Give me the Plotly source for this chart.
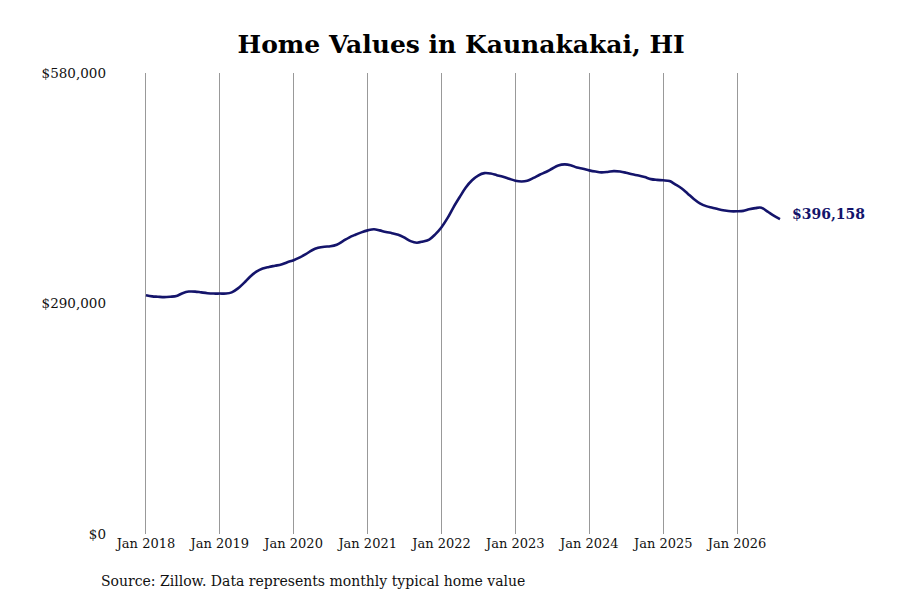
import plotly.graph_objects as go
import pandas as pd

dates = pd.date_range("2018-01-01", "2026-08-01", freq="MS").strftime("%Y-%m-%d").tolist()
values = [
    300500, 299000, 298500, 298000, 298500, 299500, 303000, 305000, 305000, 304000, 303000, 302500,
    302500, 302500, 304000, 309000, 316000, 324000, 330000, 334000, 336000, 337500, 339000, 342000,
    344500, 348000, 352000, 357000, 360000, 361500, 362000, 364000, 368500, 373000, 376500, 379500,
    382000, 383500, 382000, 380000, 378500, 376500, 373000, 368500, 366500, 368000, 370500, 377000,
    386000, 398000, 411000, 424000, 436000, 445000, 451000, 454000, 453500, 451500, 449500, 447000,
    444500, 443500, 444500, 448000, 452000, 455500, 459500, 463500, 465000, 464000, 461000, 459500,
    457500, 456000, 455000, 455500, 456500, 456000, 454500, 452500, 451000, 449000, 446500, 445500,
    445000, 444000, 440000, 435000, 428500, 421500, 416000, 412500, 410500, 408500, 407000, 406000,
    406000, 406500, 408500, 410000, 410500, 405500, 400500, 396158,
]
tick_dates = [f"{y}-01-01" for y in range(2018, 2027)]
tick_labels = [f"Jan {y}" for y in range(2018, 2027)]
y_ticks = [0, 290000, 580000]
y_labels = ["$0", "$290,000", "$580,000"]

navy = "#14146b"
font = "DejaVu Serif"

W, H = 892, 592
L, R, T, B = 108, 119, 65, 66
PW, PH = W - L - R, H - T - B

fig = go.Figure()
fig.add_trace(go.Scatter(
    x=dates, y=values, mode="lines",
    line=dict(color=navy, width=2.6, shape="spline"),
    hoverinfo="skip", showlegend=False,
))

fig.add_annotation(
    x=dates[-1], y=values[-1], xref="x", yref="y",
    text=f"<b>${values[-1]:,}</b>", showarrow=False,
    xanchor="left", yanchor="middle", xshift=10, yshift=5,
    font=dict(family=font, size=14, color=navy),
)
fig.add_annotation(
    x=(91 - L) / PW, y=(H - B - 573) / PH, xref="paper", yref="paper",
    text="Source: Zillow. Data represents monthly typical home value",
    showarrow=False, xanchor="left", yanchor="middle",
    font=dict(family=font, size=14, color="#111111"),
)

fig.update_layout(
    width=W, height=H,
    margin=dict(l=L, r=R, t=T, b=B),
    paper_bgcolor="white", plot_bgcolor="white",
    title=dict(
        text="<b>Home Values in Kaunakakai, HI</b>",
        x=0.508, xanchor="center", y=1 - 36 / H, yanchor="middle", yref="container",
        font=dict(family=font, size=25, color="#000000"),
    ),
    font=dict(family=font, size=13, color="#111111"),
    xaxis=dict(
        range=["2017-08-06", "2026-08-06"],
        tickvals=tick_dates, ticktext=tick_labels,
        showgrid=True, gridcolor="#999999", gridwidth=1,
        zeroline=False, showline=False, ticks="",
        tickfont=dict(family=font, size=13, color="#111111"),
        fixedrange=True,
    ),
    yaxis=dict(
        range=[0, 580000],
        tickvals=y_ticks, ticktext=y_labels,
        showgrid=False, zeroline=False, showline=False, ticks="",
        ticklabelstandoff=9,
        tickfont=dict(family=font, size=13.5, color="#111111"),
        fixedrange=True,
    ),
)

fig.write_html("out.html")
